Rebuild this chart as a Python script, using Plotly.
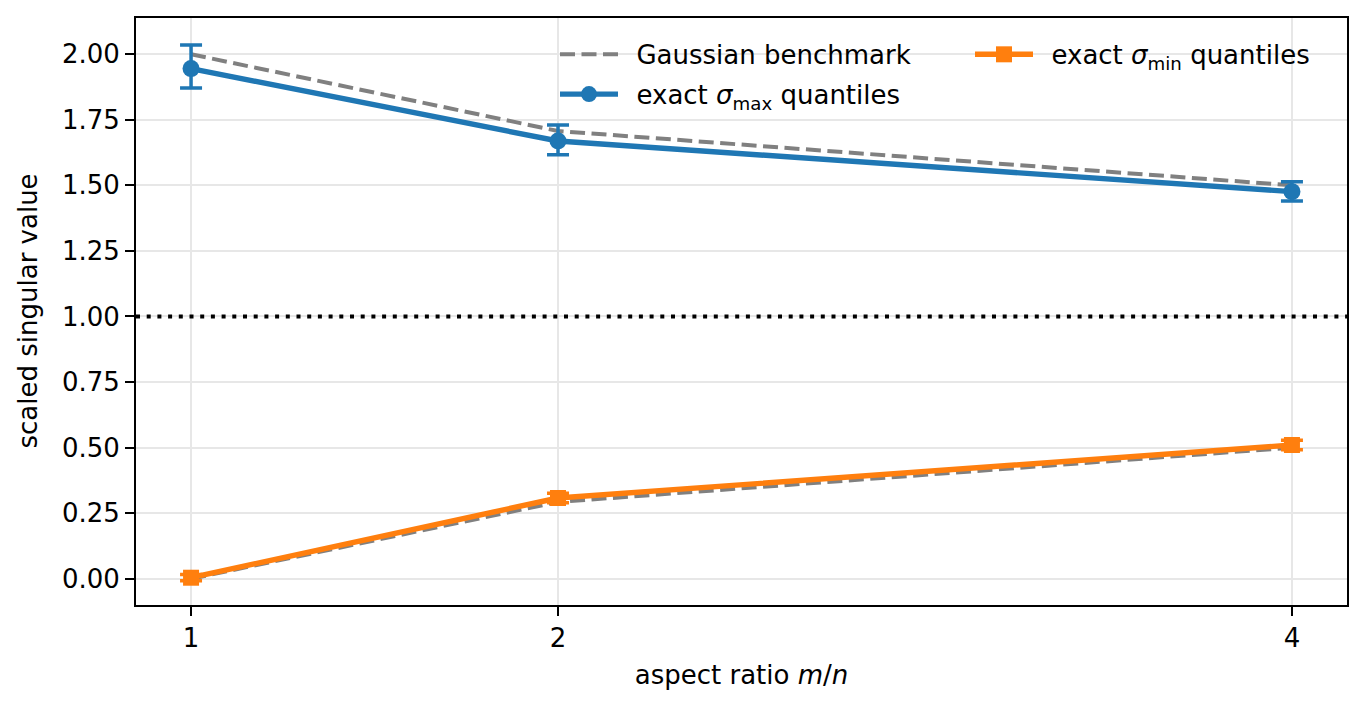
import plotly.graph_objects as go

# ---- data ----
aspect_ratio = [1, 2, 4]
sigma_max = [1.945, 1.669, 1.476]
sigma_max_err_plus = [0.090, 0.061, 0.038]
sigma_max_err_minus = [0.074, 0.052, 0.036]
sigma_min = [0.004, 0.308, 0.510]
sigma_min_err_plus = [0.012, 0.018, 0.018]
sigma_min_err_minus = [0.012, 0.018, 0.018]
gauss_max = [2.0, 1.7071, 1.5]
gauss_min = [0.0, 0.2929, 0.5]
reference_level = 1.0
y_ticks = [0.0, 0.25, 0.5, 0.75, 1.0, 1.25, 1.5, 1.75, 2.0]
x_ticks = [1, 2, 4]

BLUE = "#1f77b4"
ORANGE = "#ff7f0e"
FONT = "DejaVu Sans"
FS = 26
PAD = "\u00a0\u2009"

# page body has an 8px default margin; compensate
OFF = 8
ML, MR, MT, MB = 128, 27, 10, 112
PW = 1366 - ML - MR

fig = go.Figure()

fig.add_trace(go.Scatter(
    x=aspect_ratio + [None] + aspect_ratio,
    y=gauss_max + [None] + gauss_min,
    mode="lines",
    line=dict(color="#808080", width=4, dash="15px,6.5px"),
    name=PAD + "Gaussian benchmark",
    legend="legend", legendgroup="g", legendrank=1,
    connectgaps=False,
))

fig.add_trace(go.Scatter(
    x=aspect_ratio, y=sigma_max,
    mode="lines+markers",
    line=dict(color=BLUE, width=5.4),
    marker=dict(symbol="circle", size=17, color=BLUE),
    error_y=dict(type="data", symmetric=False, array=sigma_max_err_plus,
                 arrayminus=sigma_max_err_minus, color=BLUE, thickness=3.5, width=11),
    name=PAD + "exact <i>σ</i><sub>max</sub> quantiles",
    legend="legend", legendgroup="mx", legendrank=2,
))

fig.add_trace(go.Scatter(
    x=aspect_ratio, y=sigma_min,
    mode="lines+markers",
    line=dict(color=ORANGE, width=5.4),
    marker=dict(symbol="square", size=16, color=ORANGE),
    error_y=dict(type="data", symmetric=False, array=sigma_min_err_plus,
                 arrayminus=sigma_min_err_minus, color=ORANGE, thickness=3.5, width=11),
    name=PAD + "exact <i>σ</i><sub>min</sub> quantiles",
    legend="legend2", legendgroup="mn",
))

fig.add_hline(y=reference_level, line=dict(color="black", width=4, dash="4px,6.7px"), layer="above")

axis_common = dict(
    showline=True, linecolor="black", linewidth=2, mirror=True,
    ticks="outside", ticklen=9, tickwidth=2, tickcolor="black",
    showgrid=True, gridcolor="#e7e7e7", gridwidth=2,
    zeroline=False, automargin=False,
    tickfont=dict(family=FONT, size=FS, color="black"),
)

fig.update_xaxes(
    range=[0.85, 4.15], tickvals=x_ticks, ticktext=[str(v) for v in x_ticks],
    title=dict(text="aspect ratio <i>m</i>/<i>n</i>", font=dict(family=FONT, size=FS, color="black"), standoff=14),
    **axis_common,
)
fig.update_yaxes(
    range=[-0.1, 2.138], tickvals=y_ticks, ticktext=[f"{v:.2f}" for v in y_ticks],
    **axis_common,
)

fig.add_annotation(
    text="scaled singular value", textangle=-90,
    xref="paper", yref="paper", x=(27 - OFF - ML) / PW, y=0.5,
    xanchor="center", yanchor="middle", showarrow=False,
    font=dict(family=FONT, size=FS, color="black"),
)

legend_common = dict(
    xanchor="left", yanchor="top", orientation="v",
    bgcolor="rgba(0,0,0,0)", borderwidth=0,
    font=dict(family=FONT, size=FS, color="black"),
    itemwidth=58, tracegroupgap=3,
)

fig.update_layout(
    width=1366, height=709,
    margin=dict(l=ML, r=MR, t=MT, b=MB, autoexpand=False),
    paper_bgcolor="white", plot_bgcolor="white",
    font=dict(family=FONT, size=FS, color="black"),
    legend=dict(x=(555 - OFF - ML) / PW, y=0.978, **legend_common),
    legend2=dict(x=(970 - OFF - ML) / PW, y=0.978, **legend_common),
    showlegend=True,
)

fig.write_html("out.html")
